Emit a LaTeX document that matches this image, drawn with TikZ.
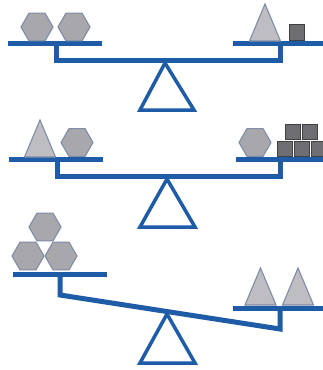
\documentclass[tikz,border=0pt]{standalone}
\usepackage{tikz}
\definecolor{seablue}{HTML}{1F5CA8}
\definecolor{hexgray}{HTML}{A8A8AC}
\definecolor{trigray}{HTML}{BEBEC2}
\definecolor{cubegray}{HTML}{6E6E72}
\definecolor{edgegray}{HTML}{7E8CA6}
\tikzset{line join=miter,
  pan/.style={draw=seablue,line width=5pt},
  beam/.style={draw=seablue,line width=5pt},
  fulcrum/.style={draw=seablue,line width=3.5pt,fill=white},
  pics/hexw/.style={code={\draw[fill=hexgray,draw=edgegray,line width=1.1pt]
    (-16,0)--(-8,-13.9)--(8,-13.9)--(16,0)--(8,13.9)--(-8,13.9)--cycle;}},
  pics/triw/.style={code={\draw[fill=trigray,draw=edgegray,line width=1.1pt]
    (-15.5,0)--(0,-37)--(15.5,0)--cycle;}},
  pics/cubew/.style={code={\draw[fill=cubegray,draw=black!75,line width=1pt]
    (0,0) rectangle (15,15.5);}}
}
\begin{document}
\begin{tikzpicture}[x=1pt,y=-1pt]
  \path[use as bounding box] (0,0) rectangle (323,370);
  % top: balanced
  \draw[fulcrum] (165,63)--(140,110)--(194,110)--cycle;
  \draw[beam] (56,43.5)--(56,60)--(280,60)--(280,43.5);
  \draw[pan] (8,43.5)--(102,43.5) (233,43.5)--(323,43.5);
  \pic at (37,27) {hexw};
  \pic at (74,27) {hexw};
  \pic at (265,41) {triw};
  \pic at (289,24.5) {cubew};
  % middle: balanced
  \draw[fulcrum] (167,179)--(140,227)--(195,227)--cycle;
  \draw[beam] (57.5,159.5)--(57.5,176.5)--(280.5,176.5)--(280.5,159.5);
  \draw[pan] (9,159.5)--(103,159.5) (236,159.5)--(323,159.5);
  \pic at (40,157) {triw};
  \pic at (77,142.5) {hexw};
  \pic at (255,142.5) {hexw};
  \foreach \cx in {277,294,311} \pic at (\cx,141) {cubew};
  \foreach \cx in {285.5,302.5} \pic at (\cx,124) {cubew};
  % bottom: tipped
  \draw[fulcrum] (167,314)--(140,363)--(195,363)--cycle;
  \draw[beam] (60,274.5)--(60,295)--(280,329)--(280,308.5);
  \draw[pan] (13,274.5)--(107,274.5) (233,308.5)--(323,308.5);
  \pic at (45,227) {hexw};
  \pic at (28,256) {hexw};
  \pic at (61,256) {hexw};
  \pic at (260.5,305) {triw};
  \pic at (298,305) {triw};
\end{tikzpicture}
\end{document}
